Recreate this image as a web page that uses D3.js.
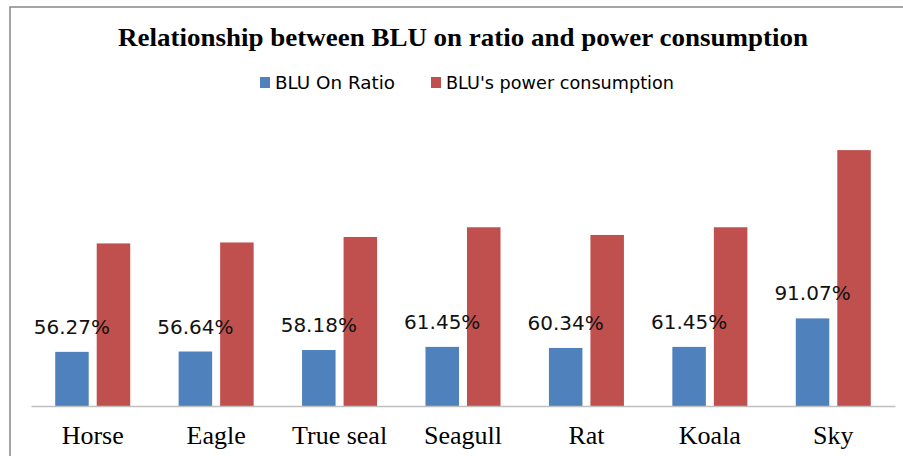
<!DOCTYPE html>
<html><head><meta charset="utf-8">
<script src="https://cdn.jsdelivr.net/npm/d3@7"></script>
<style>html,body{margin:0;padding:0;background:#fff;overflow:hidden}</style>
</head><body>
<svg id="c" width="903" height="456"></svg>
<script>
const categories = ["Horse","Eagle","True seal","Seagull","Rat","Koala","Sky"];
const onRatio = [56.27,56.64,58.18,61.45,60.34,61.45,91.07];
const power = [169,170,175.7,185.8,177.8,185.8,266];
const seriesNames = ["BLU On Ratio","BLU's power consumption"];
const colors = ["#4F81BD","#C0504D"];
const title = "Relationship between BLU on ratio and power consumption";

const svg = d3.select("#c");
svg.append("rect").attr("x",10).attr("y",7).attr("width",920).attr("height",470)
  .attr("fill","#fff").attr("stroke","#868686").attr("stroke-width",1.5);

const x = d3.scaleBand().domain(categories).range([31,895]).paddingInner(0).paddingOuter(0);
const xi = d3.scaleBand().domain([0,1]).range([0,x.bandwidth()]).paddingInner(0.193).paddingOuter(0.583);
const y = d3.scaleLinear().domain([0,300]).range([406,117.4]);

svg.append("text").attr("x",463).attr("y",46).attr("text-anchor","middle")
  .attr("font-family","'Liberation Serif','Times New Roman',serif").attr("font-weight","bold")
  .attr("font-size",25).attr("textLength",690).attr("lengthAdjust","spacingAndGlyphs")
  .attr("fill","#000").text(title);

// legend
const leg = svg.append("g").attr("font-family","'DejaVu Sans',sans-serif").attr("font-size",17.5);
const legX = [260,431];
const legW = [120,228];
seriesNames.forEach((n,i)=>{
  leg.append("rect").attr("x",legX[i]).attr("y",77).attr("width",10).attr("height",11).attr("fill",colors[i]);
  leg.append("text").attr("x",legX[i]+15).attr("y",88.5).attr("fill","#000")
    .attr("textLength",legW[i]).attr("lengthAdjust","spacingAndGlyphs").text(n);
});

const data = categories.map((c,i)=>({c, v:[onRatio[i],power[i]]}));
const g = svg.append("g");
data.forEach(d=>{
  d.v.forEach((v,k)=>{
    g.append("rect").attr("x",x(d.c)+xi(k)).attr("width",xi.bandwidth())
      .attr("y",y(v)).attr("height",y(0)-y(v)).attr("fill",colors[k]);
  });
  g.append("text").attr("x",x(d.c)+xi(0)+xi.bandwidth()/2).attr("y",y(d.v[0])-18)
    .attr("text-anchor","middle").attr("font-family","'DejaVu Sans',sans-serif")
    .attr("font-size",20).attr("fill","#111").text(d.v[0].toFixed(2)+"%");
});

const ax = svg.append("g").attr("transform","translate(0,406)")
  .call(d3.axisBottom(x).tickSize(0).tickPadding(0));
ax.select(".domain").attr("stroke","#BFBFBF").attr("stroke-width",1.5);
ax.selectAll(".tick text").attr("font-family","'Liberation Serif','Times New Roman',serif")
  .attr("font-size",26).attr("fill","#000").attr("dy",0).attr("y",38);
</script>
</body></html>
